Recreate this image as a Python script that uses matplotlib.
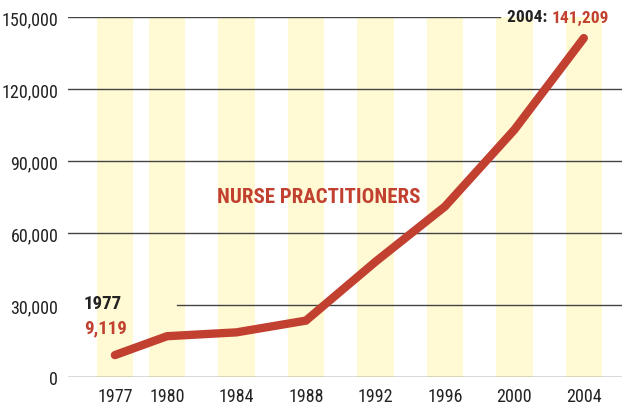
import matplotlib.pyplot as plt
from matplotlib import font_manager
from matplotlib.ticker import FuncFormatter

years = [1977, 1980, 1984, 1988, 1992, 1996, 2000, 2004]
nurses = [9119, 17000, 18600, 23500, 48000, 71000, 103000, 141209]
yticks = [0, 30000, 60000, 90000, 120000, 150000]

red = '#c1402f'
band = '#fff9d4'

names = {f.name for f in font_manager.fontManager.ttflist}
narrow = [n for n in ['Liberation Sans Narrow', 'DejaVu Sans Condensed',
                      'Roboto Condensed', 'Lato', 'Roboto'] if n in names]
plt.rcParams['font.family'] = narrow[:1] + ['DejaVu Sans']

fig = plt.figure(figsize=(6.22, 4.10), dpi=100)
ax = fig.add_axes([68 / 622, 32 / 410, 554 / 622, 360 / 410])

for yr in years:
    ax.axvspan(yr - 1.05, yr + 1.05, color=band, lw=0, zorder=0)

# gridlines, two of them broken for the labels
for v in yticks:
    if v == 150000:
        ax.plot([1974.3, 1999.2], [v, v], color='#444444', lw=1, zorder=1)
    elif v == 30000:
        ax.plot([1980.6, 2006.2], [v, v], color='#444444', lw=1, zorder=1)
    else:
        ax.axhline(v, color='#444444', lw=1, zorder=1)

ax.plot(years, nurses, color=red, lw=6, solid_capstyle='round',
        solid_joinstyle='miter', zorder=3)

ax.set_xlim(1974.3, 2006.2)
ax.set_ylim(0, 150000)
ax.set_xticks(years)
ax.set_yticks(yticks)
ax.yaxis.set_major_formatter(FuncFormatter(lambda v, p: f'{int(v):,}'))
ax.tick_params(length=0, labelsize=13, colors='#222222', pad=7)
for s in ax.spines.values():
    s.set_visible(False)

ax.text(1975.2, 30800, '1977', fontsize=13.5, fontweight='bold',
        color='#222222', ha='left', va='center')
ax.text(1975.2, 20800, '9,119', fontsize=13.5, fontweight='bold', color=red,
        ha='left', va='center')
val = ax.text(2005.45, 150000, '141,209', fontsize=12.5, fontweight='bold',
              color=red, ha='right', va='center')
ax.annotate('2004: ', xy=(0, 0.5), xycoords=val, fontsize=12.5,
            fontweight='bold', color='#222222', ha='right', va='center')
ax.text(1982.9, 75200, 'NURSE PRACTITIONERS', fontsize=15, fontweight='bold',
        color=red, ha='left', va='center')

fig.savefig('out.png', dpi=100)
